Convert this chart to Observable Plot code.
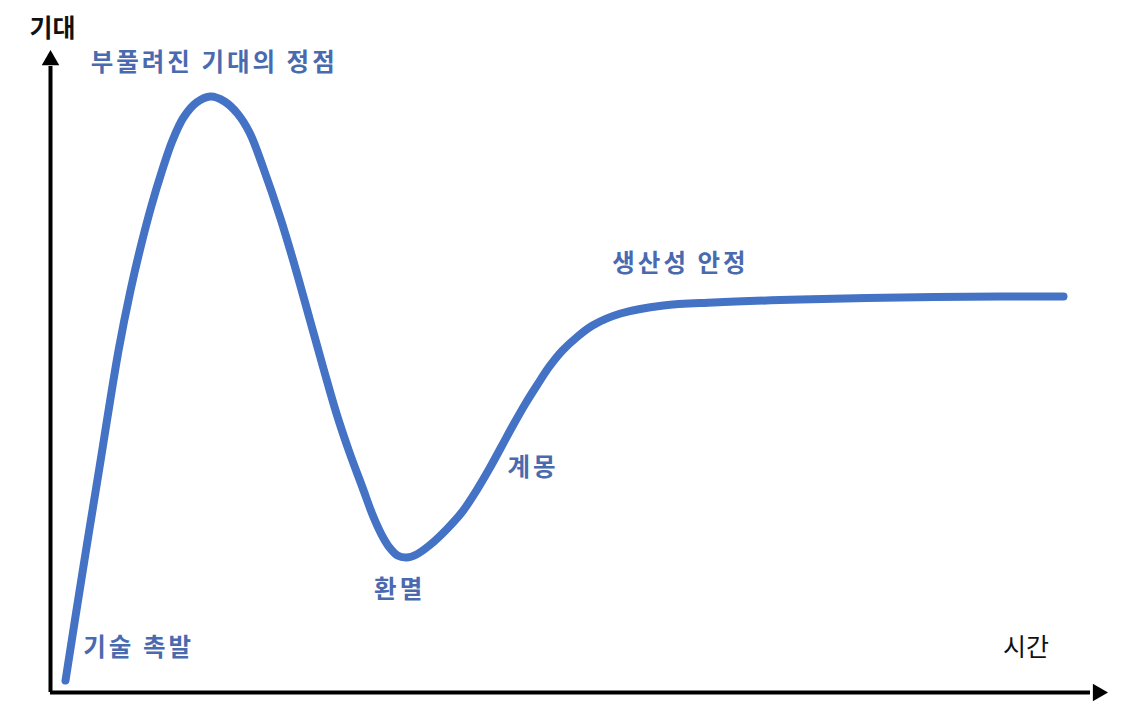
<!DOCTYPE html>
<html>
<head>
<meta charset="utf-8">
<script src="https://cdn.jsdelivr.net/npm/d3@7"></script>
<script src="https://cdn.jsdelivr.net/npm/@observablehq/plot@0.6"></script>
<style>
  html, body { margin: 0; padding: 0; background: #ffffff; }
  #chart svg { display: block; }
</style>
</head>
<body>
<div id="chart"></div>
<script>
// Hype-cycle curve: time (0–100) vs expectation (0–100)
const curveTime = [1.42, 3.02, 4.63, 6.43, 7.56, 8.60, 9.55, 10.49, 11.53, 12.57, 13.80, 15.12, 16.45, 17.67, 18.81, 20.13, 21.74, 23.16, 24.48, 25.80, 27.03, 28.26, 29.49, 30.43, 31.29, 32.04, 32.80, 33.65, 34.59, 35.92, 37.43, 38.94, 40.26, 41.49, 42.63, 43.76, 44.90, 46.03, 47.16, 48.39, 49.72, 51.23, 53.88, 57.94, 62.67, 70.89, 80.34, 89.79, 95.75];
const curveExpect = [1.87, 18.69, 35.05, 53.27, 62.62, 69.94, 75.86, 81.00, 85.98, 89.56, 91.90, 92.83, 92.06, 90.19, 87.23, 81.62, 73.83, 66.04, 58.26, 50.47, 43.46, 37.38, 31.93, 27.73, 24.61, 22.59, 21.34, 21.03, 21.50, 23.05, 25.39, 28.19, 31.46, 34.89, 38.32, 41.74, 45.02, 47.98, 50.78, 53.27, 55.30, 57.17, 59.03, 60.28, 60.75, 61.21, 61.53, 61.68, 61.68];

// Phase labels and their anchor positions (data units)
const phaseLabels = ["부풀려진 기대의 정점", "생산성 안정", "계몽", "환멸", "기술 촉발"];
const phaseTime =   [3.8, 53.1, 43.2, 33.0, 3.1];
const phaseExpect = [98.0, 66.7, 35.0, 15.9, 6.9];
const phaseAnchor = ["start", "start", "start", "middle", "start"];

// Axis titles
const axisLabels = ["기대", "시간"];
const axisTime = [0.2, 92.2];
const axisExpect = [103.3, 6.9];
const axisWeight = ["bold", "normal"];

const curve = curveTime.map((t, i) => ({t, v: curveExpect[i]}));
const phases = phaseLabels.map((label, i) => ({label, t: phaseTime[i], v: phaseExpect[i], anchor: phaseAnchor[i]}));
const axes = axisLabels.map((label, i) => ({label, t: axisTime[i], v: axisExpect[i], w: axisWeight[i]}));

const blue = "#4472C4";
const textBlue = "#4A6AAF";
const font = "'Noto Sans CJK KR', 'Noto Sans', sans-serif";

const plot = Plot.plot({
  width: 1127,
  height: 706,
  marginLeft: 50,
  marginRight: 19,
  marginTop: 50,
  marginBottom: 14,
  x: {domain: [0, 100], axis: null},
  y: {domain: [0, 100], axis: null},
  style: {background: "#ffffff", fontFamily: font},
  marks: [
    // axes with arrowheads
    Plot.ruleY([0], {x1: 0, x2: 98.3, stroke: "#000", strokeWidth: 4}),
    Plot.ruleX([0], {y1: 0, y2: 97.5, stroke: "#000", strokeWidth: 4}),
    Plot.dot([{t: 0, v: 98.5}], {x: "t", y: "v", symbol: "triangle", r: 6.5, fill: "#000", stroke: null}),
    Plot.dot([{t: 99.0, v: 0}], {x: "t", y: "v", symbol: "triangle", r: 6.5, rotate: 90, fill: "#000", stroke: null}),
    // curve
    Plot.line(curve, {x: "t", y: "v", curve: "catmull-rom", stroke: blue, strokeWidth: 8, strokeLinecap: "round", strokeLinejoin: "round"}),
    // phase labels
    ...phases.map(p => Plot.text([p], {x: "t", y: "v", text: "label", textAnchor: p.anchor, fill: textBlue, fontSize: 24.5, fontWeight: "bold", fontFamily: font})),
    // axis titles
    ...axes.map(a => Plot.text([a], {x: "t", y: "v", text: "label", textAnchor: "middle", fill: "#111", fontSize: 25, fontWeight: a.w, fontFamily: font}))
  ]
});

d3.select(plot).selectAll("text").filter(function() {
  return d3.select(this).attr("fill") === textBlue || this.parentNode.getAttribute("fill") === textBlue;
}).attr("letter-spacing", "3px");
document.getElementById("chart").appendChild(plot);
</script>
</body>
</html>
